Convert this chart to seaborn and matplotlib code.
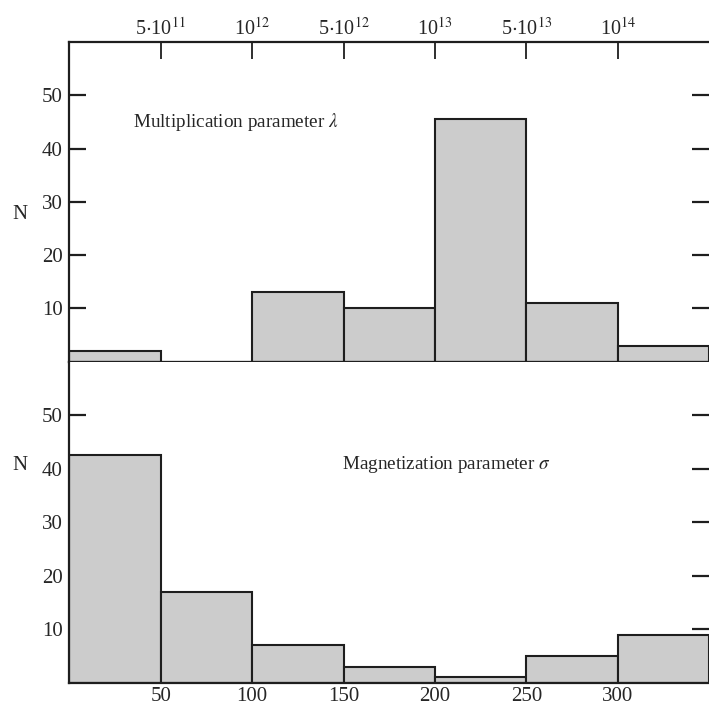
# 1단계 : 데이터 준비
import numpy as np
import matplotlib.pyplot as plt
import seaborn as sns

bin_edges = [0, 50, 100, 150, 200, 250, 300, 350]

# 위쪽 패널: 증배 파라미터 lambda
lam_counts = [2, 0, 13, 10, 45.5, 11, 3]
lam_tick_pos = [50, 100, 150, 200, 250, 300]
lam_tick_labels = [r"5$\cdot$10$^{11}$", r"10$^{12}$", r"5$\cdot$10$^{12}$",
                   r"10$^{13}$", r"5$\cdot$10$^{13}$", r"10$^{14}$"]

# 아래쪽 패널: 자화 파라미터 sigma
sig_counts = [42.5, 17, 7, 3, 1, 5, 9]
sig_tick_pos = [50, 100, 150, 200, 250, 300]
sig_tick_labels = ["50", "100", "150", "200", "250", "300"]

y_ticks = [10, 20, 30, 40, 50]

# 2단계 : 스타일 설정
sns.set_style("ticks")
plt.rcParams['font.family'] = ['Liberation Serif', 'DejaVu Serif']
plt.rcParams['mathtext.fontset'] = 'stix'

edges = np.array(bin_edges)
centers = (edges[:-1] + edges[1:]) / 2

fig = plt.figure(figsize=(7.09, 7.09), dpi=100)
ax1 = fig.add_axes([0.098, 0.49, 0.902, 0.4508])
ax2 = fig.add_axes([0.098, 0.037, 0.902, 0.453])

bar_kw = dict(bins=bin_edges, color='#cccccc', edgecolor='#1e1e1e',
              linewidth=1.5, alpha=1)

# 3단계 : 히스토그램 그리기
sns.histplot(x=centers, weights=lam_counts, ax=ax1, **bar_kw)
sns.histplot(x=centers, weights=sig_counts, ax=ax2, **bar_kw)

for ax in (ax1, ax2):
    ax.set_xlim(0, 350)
    ax.set_ylim(0, 60)
    ax.set_yticks(y_ticks)
    ax.spines['right'].set_visible(False)
    for s in ax.spines.values():
        s.set_linewidth(1.6)
        s.set_color('#1e1e1e')
    ax.tick_params(axis='y', direction='in', length=12, width=1.6,
                   left=True, right=True, labelsize=15, pad=5,
                   color='#1e1e1e')
    ax.set_ylabel('N', rotation=0, fontsize=15, va='center')

ax1.yaxis.set_label_coords(-0.077, 0.461)
ax2.yaxis.set_label_coords(-0.077, 0.677)

# 위쪽 패널 x축 (위에 눈금)
ax1.xaxis.tick_top()
ax1.set_xticks(lam_tick_pos, lam_tick_labels)
ax1.tick_params(axis='x', direction='in', length=12, width=1.3, pad=2,
                labelsize=14.5, top=True, bottom=False, color='#1e1e1e')
ax1.set_xlabel('')

# 아래쪽 패널 x축
ax2.spines['top'].set_visible(False)
ax2.set_xticks(sig_tick_pos, sig_tick_labels)
ax2.tick_params(axis='x', length=0, pad=3, labelsize=15)
ax2.set_xlabel('')

# 패널 설명 텍스트
ax1.text(35, 45, r"Multiplication parameter $\lambda$", fontsize=13.8, va='center')
ax2.text(149, 40.7, r"Magnetization parameter $\sigma$", fontsize=13.8, va='center')

fig.savefig("out.png", dpi=100)
